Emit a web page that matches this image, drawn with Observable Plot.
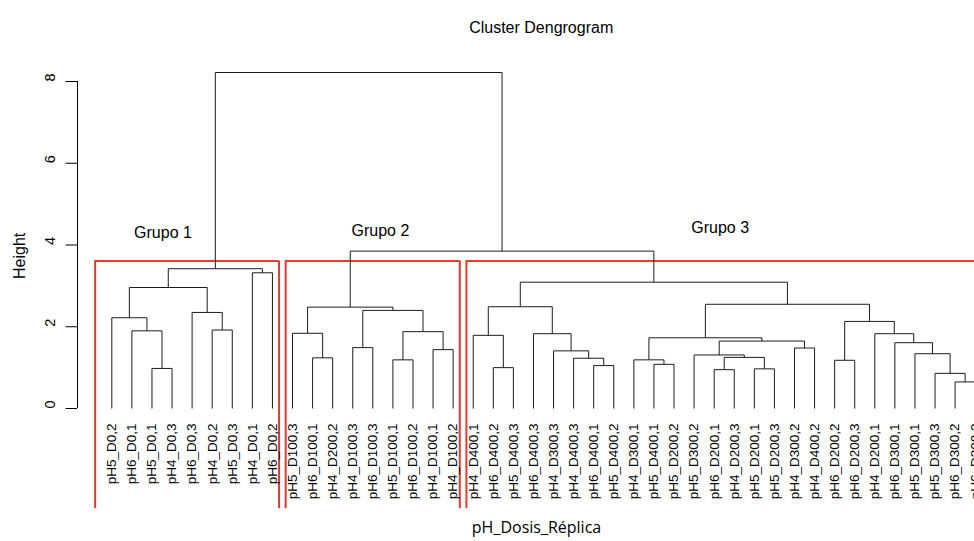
<!DOCTYPE html>
<html>
<head>
<meta charset="utf-8">
<script src="https://cdn.jsdelivr.net/npm/d3@7"></script>
<script src="https://cdn.jsdelivr.net/npm/@observablehq/plot@0.6"></script>
<style>
  html, body { margin: 0; padding: 0; background: #ffffff; }
  #chart svg { display: block; }
</style>
</head>
<body>
<div id="chart"></div>
<script>
// ---- Data (leaf order as drawn, left to right) ----
const leafLabels = [
  "pH5_D0,2","pH6_D0,1","pH5_D0,1","pH4_D0,3","pH6_D0,3","pH4_D0,2","pH5_D0,3","pH4_D0,1","pH6_D0,2",
  "pH5_D100,3","pH6_D100,1","pH4_D200,2","pH4_D100,3","pH6_D100,3","pH5_D100,1","pH6_D100,2","pH4_D100,1","pH4_D100,2",
  "pH4_D400,1","pH6_D400,2","pH5_D400,3","pH6_D400,3","pH4_D300,3","pH4_D400,3","pH6_D400,1","pH5_D400,2",
  "pH4_D300,1","pH5_D400,1","pH5_D200,2","pH5_D300,2","pH6_D200,1","pH4_D200,3","pH5_D200,1","pH5_D200,3",
  "pH4_D300,2","pH4_D400,2","pH6_D200,2","pH6_D200,3","pH4_D200,1","pH6_D300,1","pH5_D300,1","pH5_D300,3",
  "pH6_D300,2","pH6_D300,3"
];

// Merge table (hclust style): negative = leaf position (1-based), positive = earlier merge row (1-based)
const mergeLeft   = [-43, -42, -31, -33, -3, -20, -25, -28, -37, -15, -27, -24, -11,  3, -30, -41, -23, -17, -35, -13, -40, 15, 11, -19, -22, -39, -10, 10, -2, -6,  9, -1, -5, 20, 27, 24, 23, 32, 36, -8, 38, 35, 41];
const mergeRight  = [-44,   1, -32, -34, -4, -21, -26, -29, -38, -16,   8,   7, -12,  4,  14,   2,  12, -18, -36, -14,  16, 19, 22,   6,  17,  21,  13, 18,  5, -7, 26, 29, 30, 28, 34, 25, 31, 33, 37, -9, 40, 39, 42];
const mergeHeight = [0.65, 0.86, 0.95, 0.97, 0.98, 1.00, 1.05, 1.08, 1.18, 1.19, 1.19, 1.23, 1.24, 1.25, 1.31, 1.34, 1.41, 1.44, 1.48, 1.49, 1.61, 1.65, 1.73, 1.79, 1.83, 1.83, 1.84, 1.88, 1.90, 1.92, 2.13, 2.22, 2.35, 2.40, 2.48, 2.49, 2.55, 2.96, 3.09, 3.32, 3.42, 3.85, 8.22];

const yTicks = [0, 2, 4, 6, 8];

// Cluster boxes (rect.hclust, k = 3) in leaf units, and their labels
const groupNames    = ["Grupo 1", "Grupo 2", "Grupo 3"];
const groupBoxLeft  = [0.17, 9.66, 18.66];
const groupBoxRight = [9.33, 18.33, 44.33];
const groupBoxTop   = 3.61;
const groupBoxBottom = -2.45;
const groupLabelX   = [3.55, 14.38, 31.3];
const groupLabelY   = [4.30, 4.35, 4.41];

const titleText = "Cluster Dengrogram";
const xTitleText = "pH_Dosis_Réplica";
const yTitleText = "Height";

// ---- Dendrogram layout (R plot.hclust: node x = midpoint of its two children) ----
const nodeX = [], nodeH = [];
const pos = ref => ref < 0 ? {x: -ref, h: 0} : {x: nodeX[ref - 1], h: nodeH[ref - 1]};
const segments = [];
mergeLeft.forEach((a, i) => {
  const b = mergeRight[i], h = mergeHeight[i];
  const pa = pos(a), pb = pos(b);
  segments.push({x1: pa.x, y1: pa.h, x2: pa.x, y2: h});
  segments.push({x1: pb.x, y1: pb.h, x2: pb.x, y2: h});
  segments.push({x1: pa.x, y1: h, x2: pb.x, y2: h});
  nodeX.push((pa.x + pb.x) / 2);
  nodeH.push(h);
});

const leaves = leafLabels.map((name, i) => ({name, pos: i + 1}));
const boxes = groupNames.map((name, i) => ({
  name, left: groupBoxLeft[i], right: groupBoxRight[i],
  lx: groupLabelX[i], ly: groupLabelY[i]
}));
const boxSides = boxes.flatMap(b => [{x: b.left}, {x: b.right}]);

const W = 974, H = 541;
const sans = "'Liberation Sans', Arial, Helvetica, sans-serif";
const lineColor = "#1c1c1c";
const red = "#e8392e";

const chart = Plot.plot({
  width: W,
  height: H,
  marginLeft: 77,
  marginTop: 0,
  marginRight: 0,
  marginBottom: 0,
  style: {fontFamily: sans, background: "#ffffff", color: "#000"},
  x: {domain: [1, leafLabels.length], range: [111.3, 974.7], axis: null},
  y: {domain: [0, 8], range: [408, 81], axis: null},
  marks: [
    // y axis ticks and line
    Plot.axisY(yTicks, {tickSize: 11.5, tickFormat: () => "", label: null, stroke: "#000"}),
    Plot.ruleX([1], {y1: 0, y2: 8, dx: -34.3, stroke: "#000", strokeWidth: 1}),
    Plot.text(yTicks, {y: d => d, text: d => String(d), frameAnchor: "left", dx: -27, rotate: -90,
      fontSize: 14.5, fill: "#000"}),

    // cluster boxes
    Plot.ruleX(boxSides, {x: "x", y1: groupBoxBottom, y2: groupBoxTop, stroke: red, strokeWidth: 2}),
    Plot.ruleY(boxes, {y: groupBoxTop, x1: "left", x2: "right", stroke: red, strokeWidth: 2}),

    // dendrogram
    Plot.link(segments, {x1: "x1", y1: "y1", x2: "x2", y2: "y2", stroke: lineColor, strokeWidth: 1}),

    // leaf labels
    Plot.text(leaves, {x: "pos", y: 0, text: "name", rotate: -90, textAnchor: "end", dy: 15,
      fontSize: 13.5, fill: "#000"}),

    // group labels
    Plot.text(boxes, {x: "lx", y: "ly", text: "name", fontSize: 16, fill: "#000"}),

    // titles
    Plot.text([titleText], {text: d => d, frameAnchor: "top", dx: 15.2, dy: 21, fontSize: 16, fill: "#000"}),
    Plot.text([yTitleText], {text: d => d, frameAnchor: "left", dx: -58, dy: 8, rotate: -90, fontSize: 16, fill: "#000"}),
    Plot.text([xTitleText], {text: d => d, frameAnchor: "bottom", dx: 10.5, dy: -9, fontSize: 16, fill: "#000",
      fontFamily: "'Open Sans', 'Noto Sans', sans-serif"})
  ]
});

document.getElementById("chart").appendChild(chart);
</script>
</body>
</html>
